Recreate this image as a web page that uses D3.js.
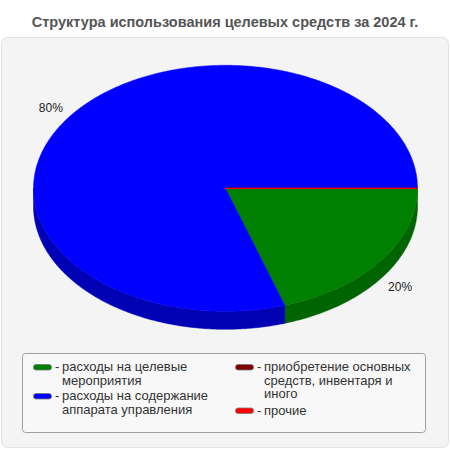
<!DOCTYPE html>
<html>
<head>
<meta charset="utf-8">
<script src="https://cdn.jsdelivr.net/npm/d3@7"></script>
<style>
  body { margin: 0; background: #fff; }
  text { font-family: "Liberation Sans", Arial, sans-serif; }
</style>
</head>
<body>
<div id="chart"></div>
<script>
// data
var title = "Структура использования целевых средств за 2024 г.";
var categories = [
    ["расходы на целевые", "мероприятия"],
    ["расходы на содержание", "аппарата управления"],
    ["приобретение основных", "средств, инвентаря и", "иного"],
    ["прочие"]
];
var values = [20, 80, 0, 0];
var colors = ["#008000", "#0000ff", "#800000", "#ff0000"];
var sideColors = ["#006400", "#0000b4", "#600000", "#c00000"];

var width = 450, height = 450;
var cx = 225.5, cy = 188.3, rx = 192, ry = 123, depth = 18;

var svg = d3.select("#chart").append("svg")
    .attr("width", width)
    .attr("height", height);

// title
svg.append("text")
    .attr("x", 225)
    .attr("y", 26.5)
    .attr("text-anchor", "middle")
    .style("font-weight", "bold")
    .style("font-size", "14.5px")
    .attr("fill", "#555")
    .text(title);

// panel
svg.append("rect")
    .attr("x", 1.5).attr("y", 37.5)
    .attr("width", 447).attr("height", 410)
    .attr("rx", 6)
    .attr("fill", "#f4f4f4")
    .attr("stroke", "#e2e2e2");

var pie = d3.pie().sort(null)
    .startAngle(Math.PI / 2)
    .endAngle(Math.PI / 2 + 2 * Math.PI);
var arcs = pie(values);

function pt(a, dy) {
    return [cx + rx * Math.sin(a), cy - ry * Math.cos(a) + (dy || 0)];
}

function ellipseArc(a0, a1, dy) {
    var n = Math.max(2, Math.ceil(Math.abs(a1 - a0) / 0.01));
    var pts = [];
    for (var i = 0; i <= n; i++) pts.push(pt(a0 + (a1 - a0) * i / n, dy));
    return pts;
}

var line = d3.line();

// side walls (front half only)
var frontA = Math.PI / 2, frontB = 3 * Math.PI / 2;
arcs.forEach(function(d, i) {
    var a0 = Math.max(d.startAngle, frontA);
    var a1 = Math.min(d.endAngle, frontB);
    if (a1 <= a0) return;
    var top = ellipseArc(a0, a1, 0);
    var bottom = ellipseArc(a1, a0, depth);
    svg.append("path")
        .attr("d", line(top.concat(bottom)) + "Z")
        .attr("fill", sideColors[i])
        .attr("stroke", sideColors[i])
        .attr("stroke-width", 0.5);
});

// top faces
arcs.forEach(function(d, i) {
    var pts = [[cx, cy]].concat(ellipseArc(d.startAngle, d.endAngle, 0));
    svg.append("path")
        .attr("d", line(pts) + "Z")
        .attr("fill", colors[i])
        .attr("stroke", colors[i])
        .attr("stroke-width", d.value === 0 ? 1.2 : 0.5);
});

// percent labels
var total = d3.sum(values);
arcs.forEach(function(d) {
    if (d.value === 0) return;
    var a = (d.startAngle + d.endAngle) / 2;
    var s = Math.sin(a), c = -Math.cos(a);
    var lx = cx + (rx + 9) * s;
    var ly = cy + (ry + 13) * c + Math.max(0, c) * 32 + 4;
    svg.append("text")
        .attr("x", lx)
        .attr("y", ly)
        .attr("text-anchor", s < 0 ? "end" : "start")
        .style("font-size", "12px")
        .attr("fill", "#222")
        .text(Math.round(d.value / total * 100) + "%");
});

// legend
svg.append("rect")
    .attr("x", 22.5).attr("y", 353.5)
    .attr("width", 403).attr("height", 79)
    .attr("rx", 3)
    .attr("fill", "#f8f8f8")
    .attr("stroke", "#a0a0a0");

var legendPos = [[33, 371], [33, 400], [235, 371], [235, 414.5]];
var lineH = 13.5;
categories.forEach(function(lines, i) {
    var g = svg.append("g")
        .attr("transform", "translate(" + legendPos[i][0] + "," + legendPos[i][1] + ")");
    g.append("rect")
        .attr("x", 0.5).attr("y", -6.5)
        .attr("width", 18).attr("height", 5.5)
        .attr("rx", 2.5)
        .attr("fill", colors[i])
        .attr("stroke", "#777")
        .attr("stroke-width", 0.8);
    g.append("text")
        .attr("x", 22).attr("y", 0)
        .style("font-size", "13px")
        .attr("fill", "#333")
        .text("-");
    lines.forEach(function(t, j) {
        g.append("text")
            .attr("x", 29).attr("y", j * lineH)
            .style("font-size", "13px")
            .attr("fill", "#333")
            .text(t);
    });
});
</script>
</body>
</html>
